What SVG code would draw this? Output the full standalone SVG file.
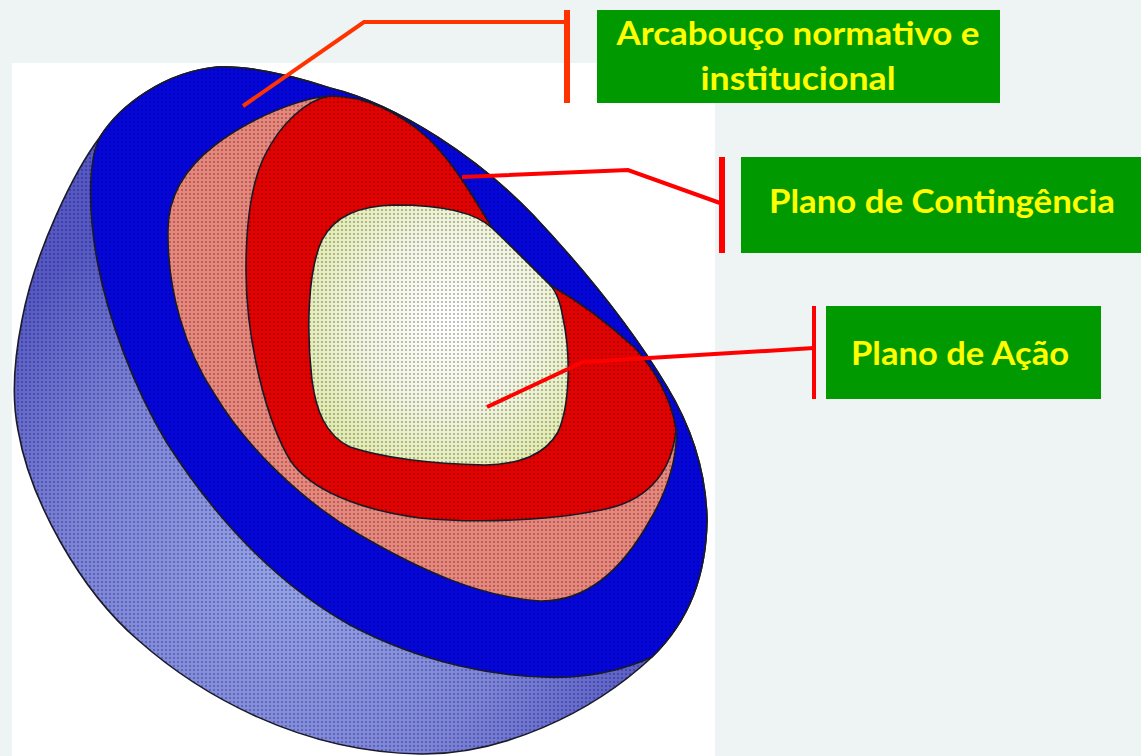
<svg xmlns="http://www.w3.org/2000/svg" width="1141" height="756" viewBox="0 0 1141 756">
<defs>
<pattern id="dots" width="4" height="4" patternUnits="userSpaceOnUse">
<circle cx="2" cy="2" r="1" fill="#000" fill-opacity="0.33"/>
</pattern>
<radialGradient id="gBack" cx="300" cy="560" r="380" gradientUnits="userSpaceOnUse">
<stop offset="0" stop-color="#95a3ea"/>
<stop offset="0.6" stop-color="#7b83db"/>
<stop offset="1" stop-color="#5558c6"/>
</radialGradient>
<radialGradient id="gCore" cx="450" cy="320" r="170" gradientUnits="userSpaceOnUse">
<stop offset="0" stop-color="#ffffff"/>
<stop offset="0.5" stop-color="#f2f5e2"/>
<stop offset="1" stop-color="#dfe9a6"/>
</radialGradient>
<style>
.edge{stroke:#1c1c2a;stroke-width:1.6;stroke-linejoin:round}
.box{fill:#009900}
.lbl{font-family:Lato,"Liberation Sans",sans-serif;font-weight:700;font-size:32px;fill:#ffff00}
.ln{fill:none;stroke-width:4;stroke-linejoin:miter}
</style>
</defs>
<rect x="0" y="0" width="1141" height="756" fill="#eef3f4"/>
<rect x="12" y="63" width="703" height="693" fill="#ffffff"/>
<g id="sphere">
<path class="edge" fill="url(#gBack)" d="M217,67 C165,72 120,105 100,137 C75,170 35,250 22,320 C14,360 12,400 18,430 C30,500 80,590 138,640 C200,695 300,752 420,754 C500,755 590,715 652,657 C690,620 706,575 707,520 C706,470 690,425 667,387 C630,325 580,265 533,215 C480,160 400,105 330,88 C290,75 250,66 217,67 Z"/>
<path class="edge" fill="#0505e0" d="M217,67 C165,72 120,105 100,137 C88,160 88,210 97,260 C108,320 135,390 167,443 C210,510 270,580 350,625 C420,662 500,680 570,677 C600,675 630,667 652,657 C690,620 706,575 707,520 C706,470 690,425 667,387 C630,325 580,265 533,215 C480,160 400,105 330,88 C290,75 250,66 217,67 Z"/>
<path class="edge" fill="#e8867c" d="M330,96 C300,98 250,118 215,145 C185,168 168,195 168,230 C167,290 185,350 215,395 C245,445 300,500 360,535 C420,570 480,597 540,601 C590,602 625,565 650,520 C668,490 678,455 676,430 C672,400 655,370 635,348 C610,325 580,302 550,285 C530,265 510,245 492,228 C475,200 455,165 430,140 C400,112 365,96 330,96 Z"/>
<path class="edge" fill="#e60000" d="M330,96 C305,100 280,125 265,155 C250,185 246,230 246,270 C246,340 266,420 290,460 C310,490 360,510 420,518 C480,524 560,520 610,508 C650,498 672,470 676,430 C672,400 655,370 635,348 C610,325 580,302 550,285 C530,265 510,245 492,228 C475,200 455,165 430,140 C400,112 365,96 330,96 Z"/>
<path class="edge" fill="url(#gCore)" d="M395,205 C360,206 335,215 322,240 C308,270 306,330 312,380 C316,410 325,435 350,447 C390,460 440,464 485,465 C520,464 545,455 558,432 C570,405 571,355 563,318 C561,306 558,293 550,285 C530,265 510,245 492,228 C474,211 440,205 395,205 Z"/>
<path fill="url(#dots)" d="M217,67 C165,72 120,105 100,137 C75,170 35,250 22,320 C14,360 12,400 18,430 C30,500 80,590 138,640 C200,695 300,752 420,754 C500,755 590,715 652,657 C690,620 706,575 707,520 C706,470 690,425 667,387 C630,325 580,265 533,215 C480,160 400,105 330,88 C290,75 250,66 217,67 Z"/>
</g>
<g id="connectors">
<polyline class="ln" stroke="#ff3300" points="567,22 364,22 243,106"/>
<rect x="564" y="10" width="6" height="93" fill="#ff3300"/>
<polyline class="ln" stroke="#ff0000" points="720,203 628,170 462,177"/>
<rect x="719" y="157" width="6" height="96" fill="#ff0000"/>
<polyline class="ln" stroke="#ff0000" points="814,348 583,362 487,407"/>
<rect x="812" y="306" width="4" height="93" fill="#ff0000"/>
</g>
<g id="node-arcabouco">
<rect class="box" x="597" y="10" width="403" height="93"/>
<text class="lbl" x="798" y="45" text-anchor="middle" textLength="363" lengthAdjust="spacingAndGlyphs">Arcabouço normativo e</text>
<text class="lbl" x="798" y="90" text-anchor="middle" textLength="195" lengthAdjust="spacingAndGlyphs">institucional</text>
</g>
<g id="node-contingencia">
<rect class="box" x="741" y="157" width="400" height="96"/>
<text class="lbl" x="942" y="213" text-anchor="middle" textLength="346" lengthAdjust="spacingAndGlyphs">Plano de Contingência</text>
</g>
<g id="node-acao">
<rect class="box" x="826" y="306" width="275" height="93"/>
<text class="lbl" x="960" y="365" text-anchor="middle" textLength="218" lengthAdjust="spacingAndGlyphs">Plano de Ação</text>
</g>
</svg>
